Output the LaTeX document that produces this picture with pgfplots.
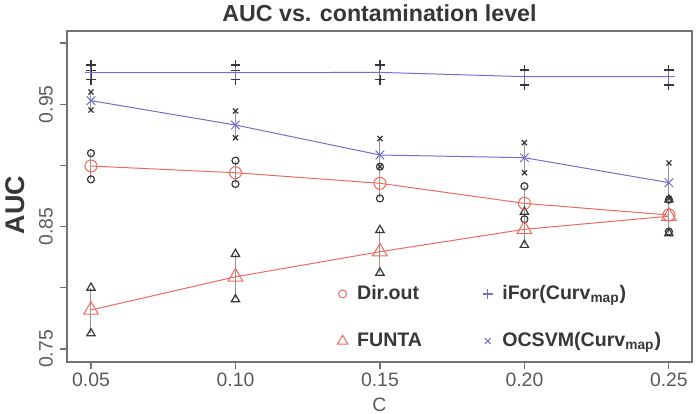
\documentclass[border=0pt]{standalone}
\usepackage{fontspec}
\setmainfont{Liberation Sans}
\usepackage{pgfplots}
\pgfplotsset{compat=1.18}
\definecolor{redm}{RGB}{240,105,95}
\definecolor{bluem}{RGB}{112,112,205}
\definecolor{txt}{RGB}{90,90,90}
\definecolor{ink}{RGB}{55,55,55}
\definecolor{rng}{RGB}{150,150,150}

\begin{document}
\begin{tikzpicture}
\useasboundingbox (-33.5pt,-25.5pt) rectangle (316.5pt,181pt);
\begin{axis}[
  at={(0,0)}, anchor=south west,
  scale only axis, width=312.5pt, height=165.5pt,
  xmin=0.0417, xmax=0.2580, ymin=0.7394, ymax=1.0098,
  xtick={0.05,0.1,0.15,0.2,0.25},
  xticklabels={0.05,0.10,0.15,0.20,0.25},
  ytick={0.75,0.8,0.85,0.9,0.95,1.0},
  yticklabels={0.75,,0.85,,0.95,},
  tick pos=left, tick align=outside, major tick length=3.5pt,
  axis line style={draw=gray!90!black, line width=0.6pt},
  every tick/.style={draw=gray!90!black, line width=0.6pt},
  ticklabel style={font=\fontsize{9.7}{11}\selectfont, text=txt},
  xticklabel style={anchor=center, yshift=-5.5pt},
  yticklabel style={rotate=90, anchor=south},
  title={AUC vs. contamination level},
  every axis title/.style={at={(axis description cs:0.5,1)}, anchor=center, yshift=9pt,
    font=\bfseries\fontsize{11.6}{13}\selectfont, text=ink},
  xlabel={C},
  every axis x label/.style={at={(axis description cs:0.5,0)}, anchor=center, yshift=-21.5pt,
    font=\fontsize{9.7}{11}\selectfont, text=txt},
  ylabel={AUC},
  every axis y label/.style={at={(axis description cs:-0.0832,0.474)}, anchor=center, rotate=90,
    font=\bfseries\fontsize{13.5}{15}\selectfont, text=ink},
  unbounded coords=jump,
  legend columns=2,
  legend cell align=left,
  legend image code/.code={\path (-3pt,0) (5pt,0); \draw[#1] plot coordinates {(0pt,0pt)};},
  legend style={at={(axis description cs:0.430,0.245)}, anchor=north west,
    draw=none, fill=none, inner sep=0pt,
    font=\bfseries\fontsize{9.8}{11}\selectfont, text=ink,
    row sep=11pt,
    /tikz/every even column/.append style={column sep=27.5pt}},
]

% ranges of the replicate runs at each contamination level
\addplot[rng, line width=0.5pt, forget plot] coordinates {
  (0.05,0.7628) (0.05,0.800) (0.05,nan)
  (0.10,0.7906) (0.10,0.8276) (0.10,nan)
  (0.15,0.8123) (0.15,0.8472) (0.15,nan)
  (0.20,0.835) (0.20,0.862) (0.20,nan)
  (0.25,0.8445) (0.25,0.872)};
\addplot[rng, line width=0.5pt, forget plot] coordinates {
  (0.05,0.8886) (0.05,0.910) (0.05,nan)
  (0.10,0.8848) (0.10,0.9039) (0.10,nan)
  (0.15,0.873) (0.15,0.899) (0.15,nan)
  (0.20,0.856) (0.20,0.883) (0.20,nan)
  (0.25,0.846) (0.25,0.872)};
\addplot[rng, line width=0.5pt, forget plot] coordinates {
  (0.05,0.9453) (0.05,0.960) (0.05,nan)
  (0.10,0.9226) (0.10,0.9444) (0.10,nan)
  (0.15,0.899) (0.15,0.922) (0.15,nan)
  (0.20,0.894) (0.20,0.9186) (0.20,nan)
  (0.25,0.873) (0.25,0.902)};
\addplot[rng, line width=0.5pt, forget plot] coordinates {
  (0.05,0.970) (0.05,0.982) (0.05,nan)
  (0.10,0.970) (0.10,0.982) (0.10,nan)
  (0.15,0.970) (0.15,0.982) (0.15,nan)
  (0.20,0.9657) (0.20,0.978) (0.20,nan)
  (0.25,0.9657) (0.25,0.978)};

% replicate runs
\addplot[only marks, mark=triangle, mark size=2.4pt, ink, line width=0.6pt, forget plot] coordinates {
  (0.05,0.7628) (0.05,0.800) (0.10,0.7906) (0.10,0.8276) (0.15,0.8123) (0.15,0.8472)
  (0.20,0.835) (0.20,0.862) (0.25,0.8445) (0.25,0.872)};
\addplot[only marks, mark=o, mark size=1.75pt, ink, line width=0.6pt, forget plot] coordinates {
  (0.05,0.8886) (0.05,0.910) (0.10,0.8848) (0.10,0.9039) (0.15,0.873) (0.15,0.899)
  (0.20,0.856) (0.20,0.883) (0.25,0.846) (0.25,0.872)};
\addplot[only marks, mark=x, mark size=1.8pt, ink, line width=0.6pt, forget plot] coordinates {
  (0.05,0.9453) (0.05,0.960) (0.10,0.9226) (0.10,0.9444) (0.15,0.899) (0.15,0.922)
  (0.20,0.894) (0.20,0.9186) (0.25,0.873) (0.25,0.902)};
\addplot[only marks, mark=+, mark size=2.4pt, ink, line width=0.6pt, forget plot] coordinates {
  (0.05,0.970) (0.05,0.9774) (0.05,0.982)
  (0.10,0.970) (0.10,0.9774) (0.10,0.982)
  (0.15,0.970) (0.15,0.982)
  (0.20,0.9657) (0.20,0.9725) (0.20,0.978)
  (0.25,0.9657) (0.25,0.9725) (0.25,0.978)};

% mean AUC of each method
\addplot[redm, line width=0.5pt, mark=triangle, mark size=4.2pt, forget plot] coordinates {
  (0.05,0.7819) (0.10,0.809) (0.15,0.8295) (0.20,0.8478) (0.25,0.8585)};
\addplot[redm, line width=0.5pt, mark=o, mark size=3pt, forget plot] coordinates {
  (0.05,0.8995) (0.10,0.894) (0.15,0.8854) (0.20,0.869) (0.25,0.8595)};
\addplot[bluem, line width=0.5pt, mark=x, mark size=3pt, forget plot] coordinates {
  (0.05,0.9529) (0.10,0.933) (0.15,0.9085) (0.20,0.9063) (0.25,0.8859)};
\addplot[bluem, line width=0.5pt, mark=+, mark size=3pt, forget plot] coordinates {
  (0.05,0.9757) (0.10,0.9757) (0.15,0.976) (0.20,0.9725) (0.25,0.9725)};

\addlegendimage{only marks, mark=o, mark size=2pt, redm, line width=0.5pt}
\addlegendentry{Dir.out}
\addlegendimage{only marks, mark=+, mark size=2.5pt, bluem, line width=0.6pt}
\addlegendentry{iFor(Curv\textsubscript{map})}
\addlegendimage{only marks, mark=triangle, mark size=3pt, redm, line width=0.5pt}
\addlegendentry{FUNTA}
\addlegendimage{only marks, mark=x, mark size=2pt, bluem, line width=0.5pt}
\addlegendentry{OCSVM(Curv\textsubscript{map})}
\end{axis}
\end{tikzpicture}
\end{document}
